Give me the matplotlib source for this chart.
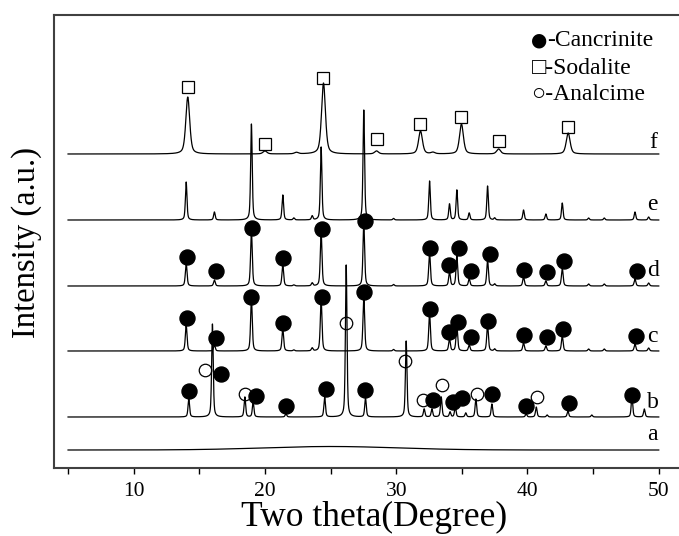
import numpy as np
import matplotlib
matplotlib.use('Agg')
import matplotlib.pyplot as plt

plt.rcParams['font.family'] = ['Liberation Serif', 'DejaVu Serif']

# ---- data (peak position in 2theta, peak height in px) ----
f_pos = [14.12, 20.0, 22.4, 24.46, 28.5, 31.85, 32.8, 34.97, 37.8, 43.1]
f_int = [57, 3, 1.5, 71, 3, 23, 1.5, 30, 5, 21]

e_pos = [14.0, 16.15, 18.97, 21.36, 22.2, 23.6, 24.28, 27.53, 29.8, 32.54, 34.06,
         34.62, 35.56, 36.96, 37.5, 39.7, 41.4, 42.65, 44.66, 45.85, 48.19, 49.23]
e_int = [38, 8, 96, 25, 2, 4, 73, 110, 1.5, 39, 16, 30, 7, 34, 2, 10, 6, 17, 2, 2, 8, 3]

d_pos = e_pos
d_int = [23, 6, 55, 21, 1, 3, 54, 62, 1.5, 34, 14, 30, 7, 26, 2, 9, 5, 18, 2, 2, 7, 3]

c_pos = e_pos
c_int = [26, 6, 52, 22, 1, 3, 52, 55, 1.5, 38, 12, 25, 6, 26, 2, 8, 5, 15, 2, 2, 7, 3]

b_pos = [14.2, 16.0, 18.47, 19.1, 21.6, 24.55, 26.19, 27.66, 30.76, 32.13, 32.72, 33.43,
         34.1, 34.5, 35.3, 36.07, 37.29, 39.9, 40.67, 41.5, 43.08, 44.9, 47.96, 48.9]
b_int = [18, 93, 20, 15, 3.3, 20, 152, 19, 76, 8, 8, 20, 5, 10, 4, 18, 13, 3, 10, 2, 6, 2, 20, 8]

a_pos = [25.0]
a_int = [3.5]

# phase markers: (2theta, height above the pattern baseline)
f_sod_x = [14.12, 20.0, 24.46, 28.5, 31.85, 34.97, 37.8, 43.1]
f_sod_h = [67, 10, 76, 15, 30, 37, 13, 27]

d_can_x = [14.09, 16.3, 19.02, 21.39, 24.36, 27.66, 32.59, 34.04, 34.78, 35.69, 37.16,
           39.7, 41.48, 42.75, 48.34]
d_can_h = [29, 15, 58, 28, 57, 65, 38, 21, 38, 15, 32, 16, 14, 25, 15]

c_can_x = [14.09, 16.3, 18.97, 21.39, 24.34, 27.53, 32.59, 33.99, 34.7, 35.69, 36.98,
           39.7, 41.48, 42.7, 48.29]
c_can_h = [33, 13, 54, 28, 54, 59, 42, 19, 29, 14, 30, 16, 14, 22, 15]

b_can_x = [14.25, 16.66, 19.35, 21.64, 24.66, 27.66, 32.79, 34.32, 35.0, 37.29, 39.91,
           43.13, 47.96]
b_can_h = [26, 43, 21, 11, 28, 27, 17, 15, 19, 23, 11, 14, 22]
b_ana_x = [15.42, 18.47, 26.19, 30.69, 32.03, 33.48, 36.15, 40.72]
b_ana_h = [47, 23, 94, 56, 17, 32, 23, 20]

names = ['a', 'b', 'c', 'd', 'e', 'f']
offsets = [18, 51, 117, 182, 248, 314]
label_y = [33, 66, 131, 198, 263, 326]

theta = np.arange(5, 50.0001, 0.01)


def pattern(pos, inten, fwhm, eta=0.5):
    y = np.zeros_like(theta)
    for p, h in zip(pos, inten):
        d = (theta - p) / (fwhm / 2.0)
        y += h * (eta / (1 + d ** 2) + (1 - eta) * np.exp(-np.log(2) * d ** 2))
    return y


curves = [
    pattern(a_pos, a_int, 12.0, eta=0.0),
    pattern(b_pos, b_int, 0.14),
    pattern(c_pos, c_int, 0.15),
    pattern(d_pos, d_int, 0.15),
    pattern(e_pos, e_int, 0.14),
    pattern(f_pos, f_int, 0.35),
]

fig = plt.figure(figsize=(6.79, 5.36), dpi=100)
ax = fig.add_axes([54 / 679, 68 / 536, 631 / 679, 453 / 536])

for off, y in zip(offsets, curves):
    ax.plot(theta, off + y, color='k', lw=0.9)

ax.plot(f_sod_x, offsets[5] + np.array(f_sod_h), 's', ms=8.6, mfc='none', mec='k', mew=0.9)
ax.plot(d_can_x, offsets[3] + np.array(d_can_h), 'o', ms=10.8, color='k')
ax.plot(c_can_x, offsets[2] + np.array(c_can_h), 'o', ms=10.8, color='k')
ax.plot(b_can_x, offsets[1] + np.array(b_can_h), 'o', ms=10.8, color='k')
ax.plot(b_ana_x, offsets[1] + np.array(b_ana_h), 'o', ms=9, mfc='none', mec='k', mew=0.9)

for n, ly in zip(names, label_y):
    ax.text(49.55, ly, n, fontsize=17, ha='center', va='center')

# legend written as text, like the original
ax.text(40.86, 428, '\u25cf', fontsize=13.5, ha='center', va='center',
        family=['DejaVu Sans'])
ax.text(41.5, 428, '-Cancrinite', fontsize=17, va='center')
ax.text(40.3, 399, '\u25a1-Sodalite', fontsize=17, va='center')
ax.text(40.25, 373, '\u25cb-Analcime', fontsize=17, va='center')

ax.set_xlim(3.93, 52.0)
ax.set_ylim(0, 453)
ax.set_xticks([10, 20, 30, 40, 50])
ax.set_xticks([5, 15, 25, 35, 45], minor=True)
ax.set_yticks([])
ax.tick_params(axis='x', which='both', direction='out', length=4, width=1,
               labelsize=15.5, pad=6)
for s in ax.spines.values():
    s.set_color('#404040')
    s.set_linewidth(1.5)

fig.text(374 / 679, 1 - 517 / 536, 'Two theta(Degree)', fontsize=25.5,
         ha='center', va='center')
fig.text(27 / 679, 1 - 242 / 536, 'Intensity (a.u.)', fontsize=23.5,
         ha='center', va='center', rotation=90)

fig.savefig('out.png', dpi=100)
